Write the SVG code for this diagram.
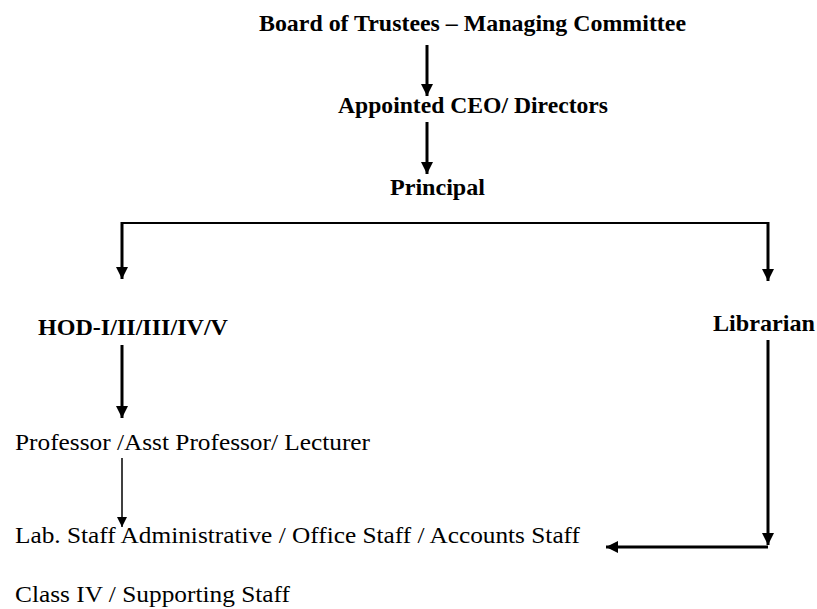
<svg xmlns="http://www.w3.org/2000/svg" width="817" height="609" viewBox="0 0 817 609">
<defs>
<style>
.t{font-family:"Liberation Serif","Times New Roman","DejaVu Serif",serif;font-size:24px;fill:#000}
.b{font-weight:700}
.ln{stroke:#000;fill:none}
</style>
<marker id="ah" viewBox="0 0 10 10" refX="10" refY="5" markerWidth="4" markerHeight="4" orient="auto" markerUnits="strokeWidth"><path d="M0,0 L10,5 L0,10 z" fill="#000"/></marker>
<marker id="ahT" viewBox="0 0 10 10" refX="10" refY="5" markerWidth="7" markerHeight="7" orient="auto" markerUnits="strokeWidth"><path d="M0,0 L10,5 L0,10 z" fill="#000"/></marker>
</defs>
<rect width="817" height="609" fill="#fff"/>
<g id="board"><text class="t b" x="259" y="31" textLength="427" lengthAdjust="spacingAndGlyphs">Board of Trustees – Managing Committee</text></g>
<g id="ceo"><text class="t b" x="338" y="113" textLength="270" lengthAdjust="spacingAndGlyphs">Appointed CEO/ Directors</text></g>
<g id="principal"><text class="t b" x="390" y="195" textLength="95" lengthAdjust="spacingAndGlyphs">Principal</text></g>
<g id="hod"><text class="t b" x="38" y="335" textLength="190" lengthAdjust="spacingAndGlyphs">HOD-I/II/III/IV/V</text></g>
<g id="librarian"><text class="t b" x="713" y="331" textLength="102" lengthAdjust="spacingAndGlyphs">Librarian</text></g>
<g id="professor"><text class="t" x="15" y="450" textLength="355" lengthAdjust="spacingAndGlyphs">Professor /Asst Professor/ Lecturer</text></g>
<g id="labstaff"><text class="t" x="15" y="543" textLength="565" lengthAdjust="spacingAndGlyphs">Lab. Staff Administrative / Office Staff / Accounts Staff</text></g>
<g id="classiv"><text class="t" x="15" y="602" textLength="275" lengthAdjust="spacingAndGlyphs">Class IV / Supporting Staff</text></g>
<g id="connectors">
<line class="ln" x1="427" y1="45" x2="427" y2="96" stroke-width="3" marker-end="url(#ah)"/>
<line class="ln" x1="427" y1="122" x2="427" y2="174" stroke-width="3" marker-end="url(#ah)"/>
<line class="ln" x1="121" y1="223" x2="769" y2="223" stroke-width="2"/>
<line class="ln" x1="122" y1="222" x2="122" y2="279" stroke-width="3" marker-end="url(#ah)"/>
<line class="ln" x1="768" y1="222" x2="768" y2="281" stroke-width="3" marker-end="url(#ah)"/>
<line class="ln" x1="122" y1="345" x2="122" y2="418" stroke-width="3" marker-end="url(#ah)"/>
<line class="ln" x1="122" y1="458" x2="122" y2="527" stroke-width="1.5" marker-end="url(#ahT)"/>
<line class="ln" x1="768" y1="340" x2="768" y2="545" stroke-width="3" marker-end="url(#ah)"/>
<line class="ln" x1="768" y1="547" x2="606" y2="547" stroke-width="3" marker-end="url(#ah)"/>
</g>
</svg>
